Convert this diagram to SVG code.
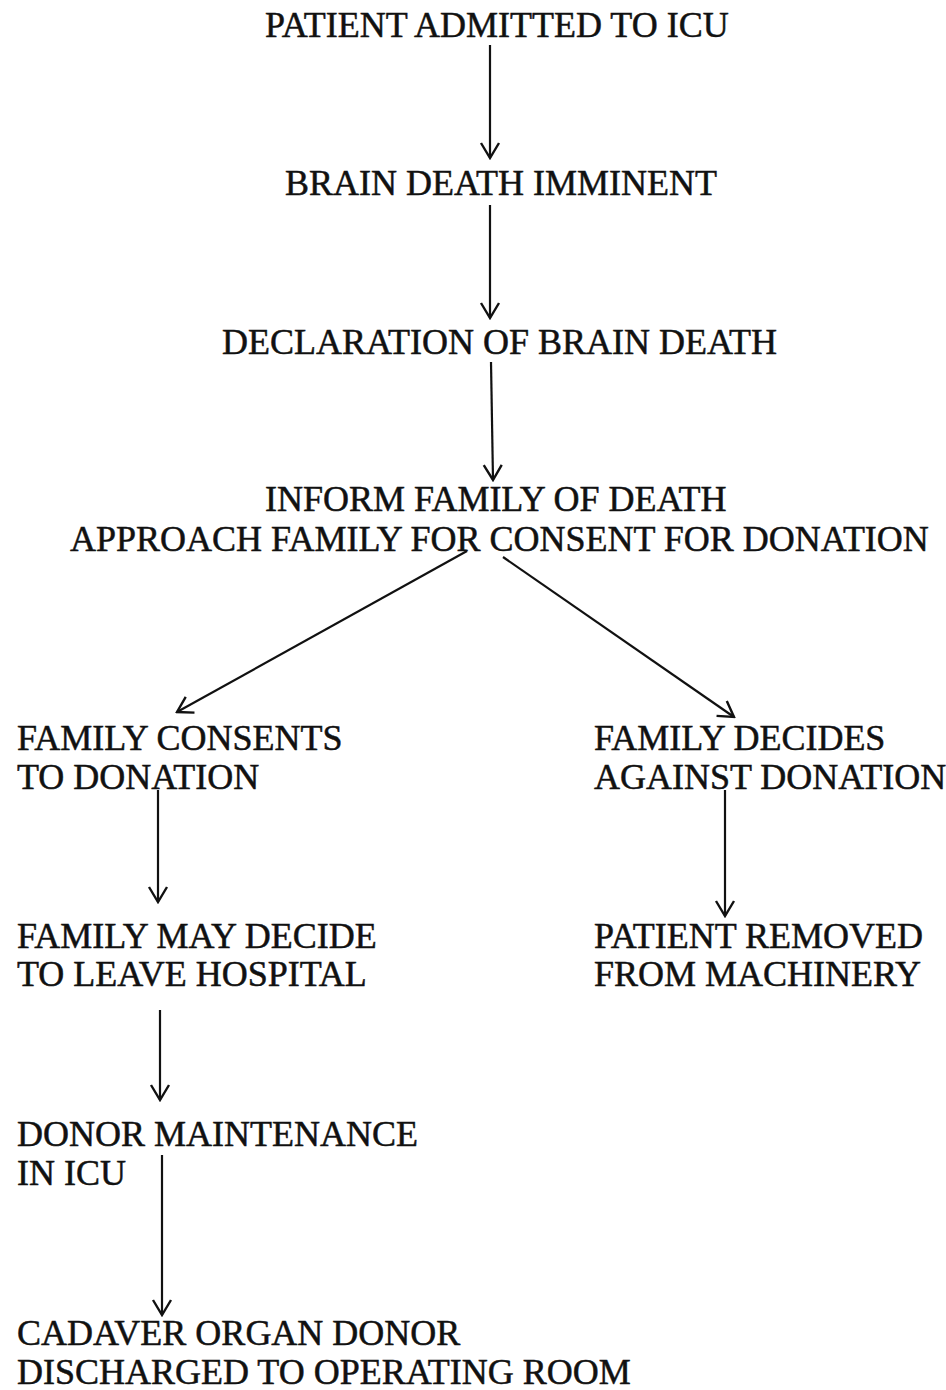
<svg xmlns="http://www.w3.org/2000/svg" width="946" height="1390" viewBox="0 0 946 1390">
<style>
text{font-family:"Liberation Serif","Times New Roman",serif;font-size:36px;fill:#111;stroke:#111;stroke-width:0.5}
.c{stroke:#111;stroke-width:2.2;fill:none}
</style>
<defs>
<marker id="ah" markerUnits="userSpaceOnUse" viewBox="-17 -11 19 22" refX="0" refY="0" markerWidth="19" markerHeight="22" orient="auto">
<path d="M-15,-9 L0,0 L-15,9" fill="none" stroke="#111" stroke-width="2.4"/>
</marker>
</defs>
<rect width="946" height="1390" fill="#fff"/>
<g id="n1"><text x="265" y="37">PATIENT ADMITTED TO ICU</text></g>
<g id="n2"><text x="285" y="195">BRAIN DEATH IMMINENT</text></g>
<g id="n3"><text x="222" y="354">DECLARATION OF BRAIN DEATH</text></g>
<g id="n4"><text x="265" y="511">INFORM FAMILY OF DEATH</text><text x="70" y="551">APPROACH FAMILY FOR CONSENT FOR DONATION</text></g>
<g id="n5"><text x="17" y="750">FAMILY CONSENTS</text><text x="17" y="789">TO DONATION</text></g>
<g id="n6"><text x="594" y="750">FAMILY DECIDES</text><text x="594" y="789">AGAINST DONATION</text></g>
<g id="n7"><text x="17" y="948">FAMILY MAY DECIDE</text><text x="17" y="986">TO LEAVE HOSPITAL</text></g>
<g id="n8"><text x="594" y="948">PATIENT REMOVED</text><text x="594" y="986">FROM MACHINERY</text></g>
<g id="n9"><text x="17" y="1146">DONOR MAINTENANCE</text><text x="17" y="1185">IN ICU</text></g>
<g id="n10"><text x="17" y="1345">CADAVER ORGAN DONOR</text><text x="17" y="1384">DISCHARGED TO OPERATING ROOM</text></g>
<g id="connectors">
<line class="c" x1="490" y1="45" x2="490" y2="158" marker-end="url(#ah)"/>
<line class="c" x1="490" y1="205" x2="490" y2="318" marker-end="url(#ah)"/>
<line class="c" x1="491" y1="362" x2="493" y2="480" marker-end="url(#ah)"/>
<line class="c" x1="467" y1="551" x2="177" y2="712" marker-end="url(#ah)"/>
<line class="c" x1="503" y1="557" x2="734" y2="717" marker-end="url(#ah)"/>
<line class="c" x1="158" y1="790" x2="158" y2="902" marker-end="url(#ah)"/>
<line class="c" x1="725" y1="790" x2="725" y2="916" marker-end="url(#ah)"/>
<line class="c" x1="160" y1="1010" x2="160" y2="1100" marker-end="url(#ah)"/>
<line class="c" x1="162" y1="1155" x2="162" y2="1315" marker-end="url(#ah)"/>
</g>
</svg>
